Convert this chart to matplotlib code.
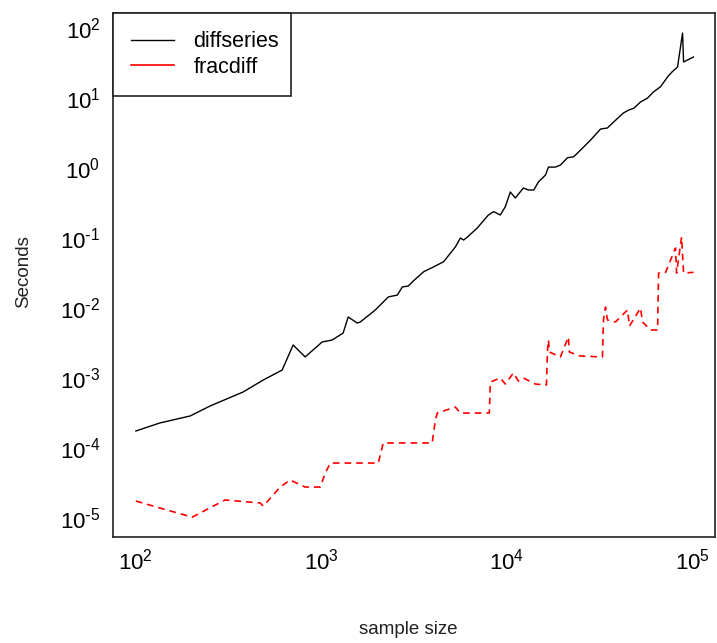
import matplotlib
matplotlib.use("Agg")
import math
import matplotlib.pyplot as plt
from matplotlib import font_manager
from matplotlib.lines import Line2D
from matplotlib.ticker import FuncFormatter

# ---- data ----
diff_n = [101, 136, 198, 253, 381, 489, 618, 708, 822, 1014,
          1148, 1315, 1400, 1566, 1626, 1958, 2301, 2572, 2737, 2946,
          3133, 3565, 4018, 4560, 5277, 5613, 5848, 6121, 6902, 7943,
          8477, 9204, 9795, 10420, 11090, 12250, 13030, 13930, 14750, 16110,
          16710, 18200, 19370, 21130, 22850, 24840, 28120, 31840, 34690, 36810,
          42270, 45190, 48080, 52240, 56770, 61340, 66930, 72990, 77450, 82590,
          87900, 89000, 100700]
diff_t = [1.75e-4, 2.28e-4, 2.87e-4, 3.98e-4, 6.31e-4, 9.36e-4, 1.30e-3, 2.96e-3, 2.0e-3, 3.27e-3,
          3.49e-3, 4.39e-3, 7.44e-3, 6.1e-3, 6.31e-3, 9.36e-3, 1.44e-2, 1.53e-2, 2.0e-2, 2.06e-2,
          2.43e-2, 3.30e-2, 3.85e-2, 4.58e-2, 7.44e-2, 0.100, 0.0936, 0.103, 0.138, 0.213,
          0.238, 0.213, 0.280, 0.454, 0.373, 0.518, 0.485, 0.485, 0.631, 0.794,
          1.03, 1.03, 1.10, 1.40, 1.45, 1.80, 2.50, 3.60, 3.73, 4.35,
          6.11, 6.74, 7.13, 8.77, 9.9, 12.2, 14.5, 20.0, 23.8, 27.7,
          84.8, 32.7, 38.5]

frac_n = [101, 136, 203, 270, 305, 471, 489, 603, 682, 822,
          991, 1054, 1122, 2032, 2162, 3963, 4117, 4220, 5277, 5613,
          8035, 8143, 9204, 9794, 10820, 11510, 12250, 14220, 16300, 16490,
          16700, 16910, 19370, 21380, 21660, 24820, 32590, 33010, 33860, 34690,
          38300, 44430, 45570, 52240, 53560, 59120, 64510, 65310, 71240, 80550,
          81630, 86840, 89000, 100700]
frac_t = [1.75e-5, 1.39e-5, 1.03e-5, 1.53e-5, 1.81e-5, 1.64e-5, 1.48e-5, 2.77e-5, 3.49e-5, 2.77e-5,
          2.77e-5, 4.39e-5, 6.1e-5, 6.1e-5, 1.18e-4, 1.18e-4, 2.51e-4, 3.16e-4, 3.85e-4, 3.16e-4,
          3.16e-4, 8.77e-4, 1.0e-3, 8.2e-4, 1.18e-3, 9.06e-4, 1.0e-3, 8.2e-4, 7.94e-4, 2.35e-3,
          3.49e-3, 2.35e-3, 2.0e-3, 3.85e-3, 2.35e-3, 2.06e-3, 2.0e-3, 6.74e-3, 1.03e-2, 6.74e-3,
          6.31e-3, 9.36e-3, 5.53e-3, 1.0e-2, 6.31e-3, 4.85e-3, 4.85e-3, 0.0316, 0.0323, 0.0720,
          0.0316, 0.103, 0.0316, 0.0323]

series_labels = ["diffseries", "fracdiff"]
x_ticks = [1e2, 1e3, 1e4, 1e5]
y_ticks = [1e-5, 1e-4, 1e-3, 1e-2, 1e-1, 1e0, 1e1, 1e2]
x_label = "sample size"
y_label = "Seconds"

# ---- fonts ----
def pick(names):
    for n in names:
        try:
            font_manager.findfont(n, fallback_to_default=False)
            return n
        except Exception:
            pass
    return "DejaVu Sans"

main_font = pick(["Liberation Sans", "Arial", "DejaVu Sans"])
plt.rcParams["font.family"] = [main_font, "DejaVu Sans"]
plt.rcParams["axes.unicode_minus"] = False


def pow10_label(v, pos):
    e = int(round(math.log10(v)))
    if e < 0:
        return r"$\mathdefault{10^{\text{-}%d}}$" % (-e)
    return r"$\mathdefault{10^{%d}}$" % e


fig = plt.figure(figsize=(7.17, 6.43), dpi=100)
ax = fig.add_axes([113 / 717, 1 - 537 / 643, 602 / 717, 524 / 643])

ax.plot(diff_n, diff_t, color="black", lw=1.0)
ax.plot(frac_n, frac_t, color="red", lw=1.2, linestyle=(0, (4, 3)))

ax.set_xscale("log")
ax.set_yscale("log")
ax.set_xlim(10 ** 1.8816, 10 ** 5.1184)
ax.set_ylim(10 ** -5.271, 10 ** 2.214)

ax.set_xticks(x_ticks)
ax.set_yticks(y_ticks)
ax.minorticks_off()
ax.xaxis.set_major_formatter(FuncFormatter(pow10_label))
ax.yaxis.set_major_formatter(FuncFormatter(pow10_label))
ax.tick_params(axis="both", length=0, labelsize=16)
ax.tick_params(axis="x", pad=8)
ax.tick_params(axis="y", pad=9)

for s in ax.spines.values():
    s.set_linewidth(1.2)
    s.set_color("#222222")

ax.set_xlabel(x_label, fontsize=13.5, color="#222222")
ax.set_ylabel(y_label, fontsize=13.5, color="#222222")
ax.xaxis.set_label_coords(0.49, -0.16)
ax.yaxis.set_label_coords(-0.135, 0.506)

handles = [Line2D([], [], color="black", lw=1.0),
           Line2D([], [], color="red", lw=1.2)]
leg = ax.legend(handles, series_labels, loc="upper left",
                bbox_to_anchor=(0, 0, 178 / 602, 1), mode="expand",
                borderaxespad=0, fancybox=False, framealpha=1,
                edgecolor="#222222", fontsize=15.5, borderpad=0.85,
                handlelength=2.0, handletextpad=0.88, labelspacing=0.2)
leg.get_frame().set_linewidth(1.2)

fig.savefig("out.png", dpi=100)
